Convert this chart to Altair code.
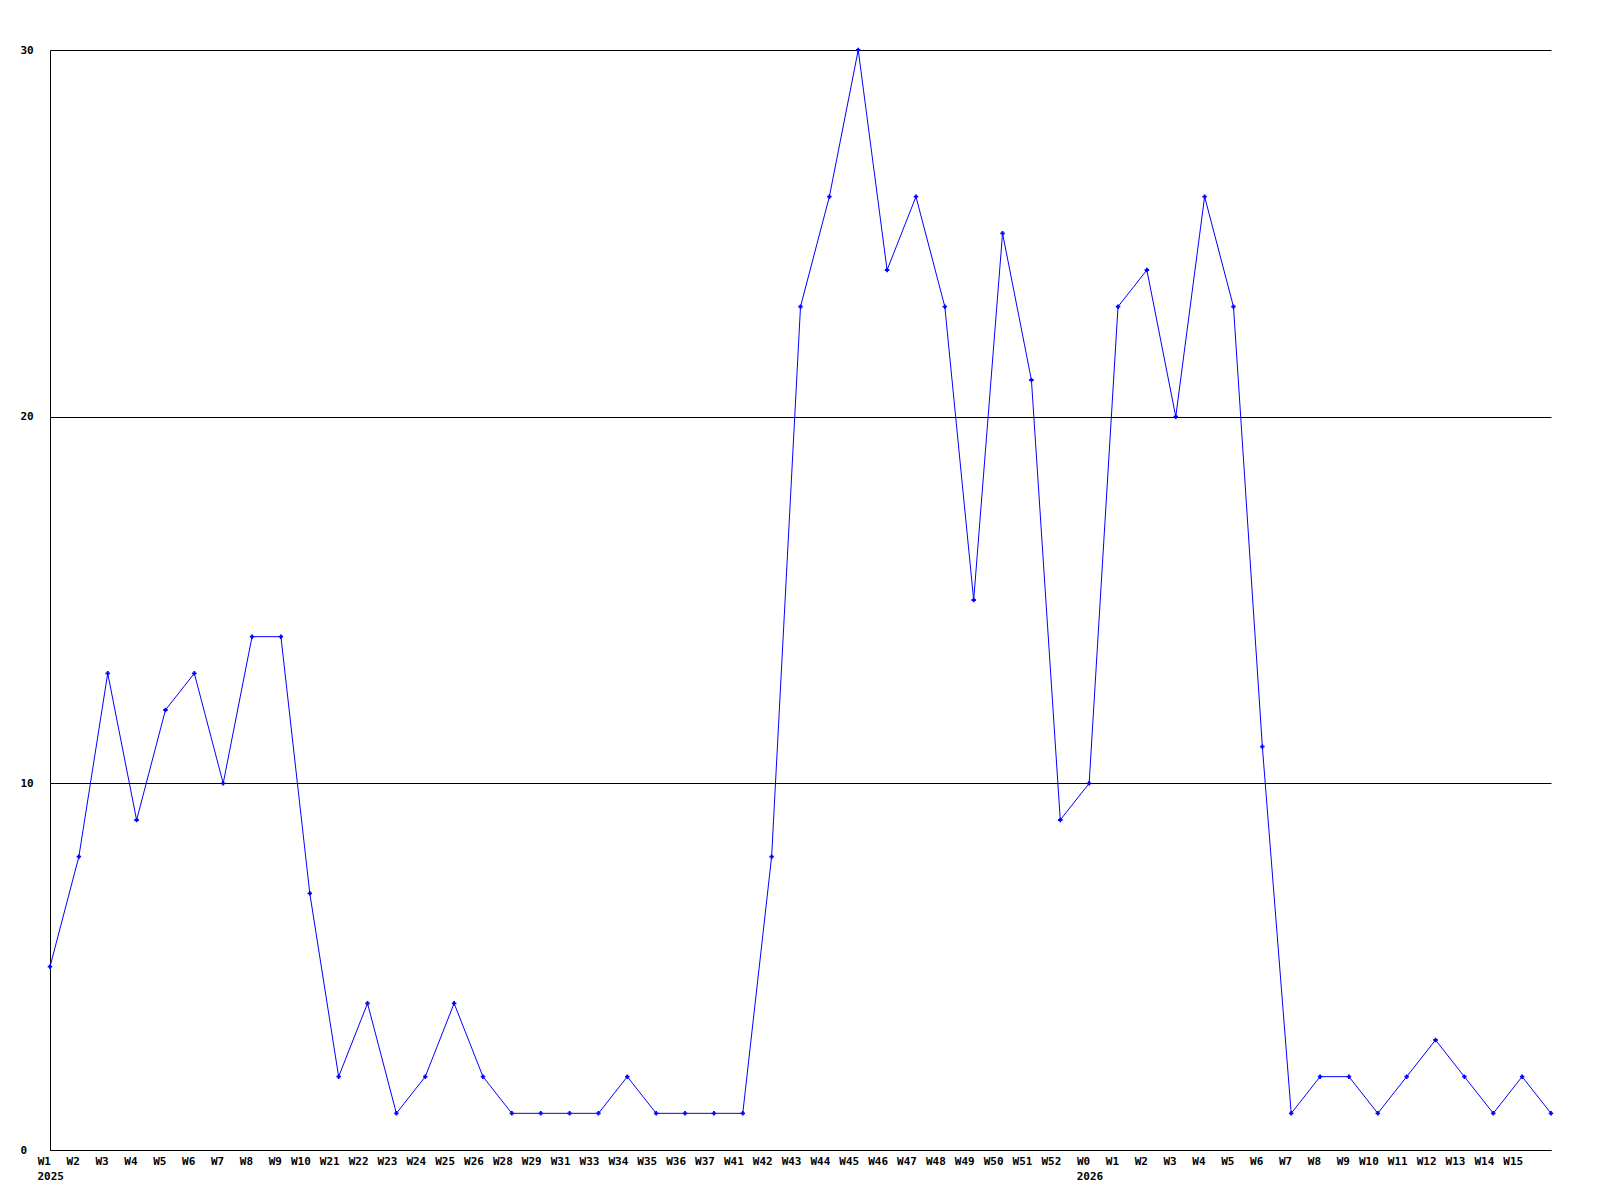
import altair as alt
import pandas as pd

week_labels = ["W1", "W2", "W3", "W4", "W5", "W6", "W7", "W8", "W9", "W10",
               "W21", "W22", "W23", "W24", "W25", "W26", "W28", "W29", "W31", "W33",
               "W34", "W35", "W36", "W37", "W41", "W42", "W43", "W44", "W45", "W46",
               "W47", "W48", "W49", "W50", "W51", "W52", "W0", "W1", "W2", "W3",
               "W4", "W5", "W6", "W7", "W8", "W9", "W10", "W11", "W12", "W13",
               "W14", "W15"]
values = [5, 8, 13, 9, 12, 13, 10, 14, 14, 7,
          2, 4, 1, 2, 4, 2, 1, 1, 1, 1,
          2, 1, 1, 1, 1, 8, 23, 26, 30, 24,
          26, 23, 15, 25, 21, 9, 10, 23, 24, 20,
          26, 23, 11, 1, 2, 2, 1, 2, 3, 2,
          1, 2, 1]
year_positions = [0, 36]
year_labels = ["2025", "2026"]
y_ticks = [0, 10, 20, 30]

FONT = "DejaVu Sans Mono"

df = pd.DataFrame({"i": list(range(len(values))), "v": values})
labels_df = pd.DataFrame({"i": list(range(len(week_labels))), "lab": week_labels})
years = pd.DataFrame({"i": year_positions, "year": year_labels})

x_scale = alt.Scale(domain=[0, len(values) - 1], nice=False, zero=False)
y_scale = alt.Scale(domain=[0, 30], nice=False)

x_axis = alt.Axis(
    values=[], labels=False, ticks=False, grid=False, title=None,
    domainColor="black", domainWidth=1,
)
y_axis = alt.Axis(
    values=y_ticks, ticks=False, grid=True, gridColor="black", gridWidth=1, gridOpacity=1,
    title=None, domainColor="black", domainWidth=1,
    labelFont=FONT, labelFontSize=11, labelFontWeight="bold", labelColor="black",
    labelAlign="left", labelBaseline="middle", labelPadding=30,
)

base = alt.Chart(df)
line = base.mark_line(color="#0000ff", strokeWidth=1).encode(
    x=alt.X("i:Q", scale=x_scale, axis=x_axis),
    y=alt.Y("v:Q", scale=y_scale, axis=y_axis),
)
pts = base.mark_point(shape="cross", filled=True, color="#0000ff", size=20, opacity=1).encode(
    x=alt.X("i:Q", scale=x_scale),
    y=alt.Y("v:Q", scale=y_scale),
)
xlabs = alt.Chart(labels_df).mark_text(
    font=FONT, fontSize=11, fontWeight="bold", color="black",
    align="right", baseline="top", dx=1,
).encode(
    x=alt.X("i:Q", scale=x_scale),
    y=alt.value(1106),
    text="lab:N",
)
yr = alt.Chart(years).mark_text(
    font=FONT, fontSize=11, fontWeight="bold", color="black",
    align="right", baseline="top", dx=14,
).encode(
    x=alt.X("i:Q", scale=x_scale),
    y=alt.value(1121),
    text="year:N",
)

chart = alt.layer(line, pts, xlabs, yr).properties(
    width=1501, height=1100,
    background="white",
    autosize=alt.AutoSizeParams(type="none"),
    padding={"left": 42, "top": 42, "right": 40, "bottom": 60},
).configure_view(strokeWidth=0, stroke="transparent")

chart.save("out.html", embed_options={"renderer": "svg", "actions": False})
